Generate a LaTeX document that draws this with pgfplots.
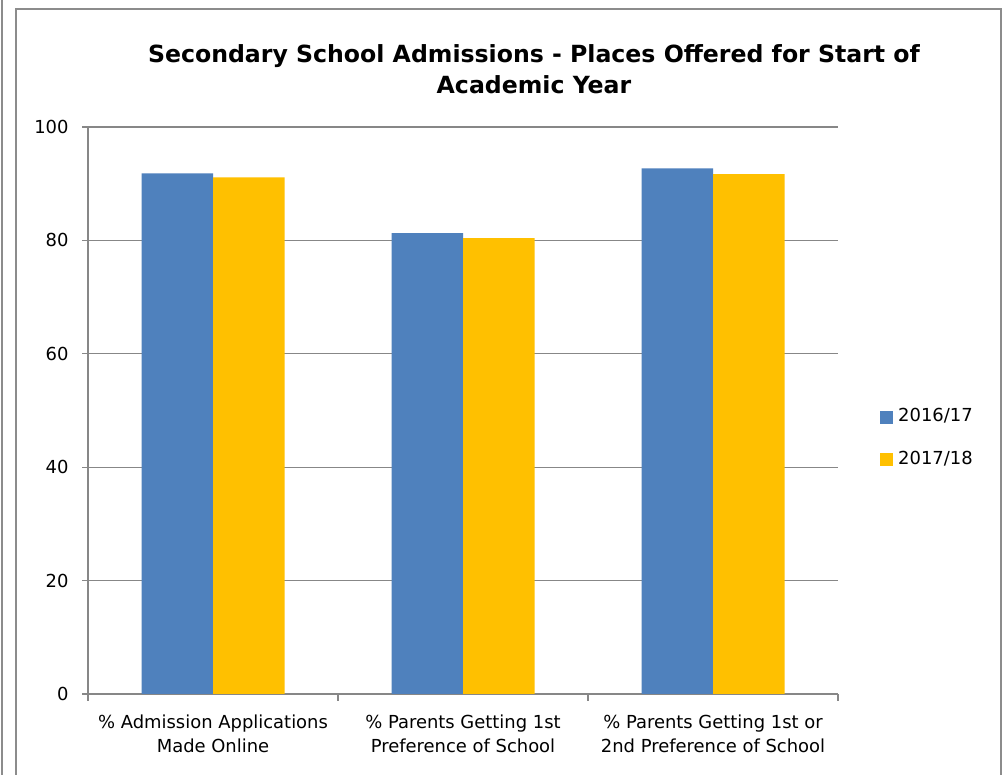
\documentclass[border=0pt]{standalone}
\usepackage{pgfplots}
\pgfplotsset{compat=1.18}
\usepackage{fontspec}
\setmainfont{DejaVu Sans}
\definecolor{sblue}{HTML}{4F81BD}
\definecolor{syellow}{HTML}{FFC000}
\definecolor{sgrid}{HTML}{878787}
\definecolor{sframe}{HTML}{8C8C8C}
\begin{document}
\begin{tikzpicture}[x=1bp,y=1bp]
\useasboundingbox (0,0) rectangle (1006,775);
\fill[white] (0,0) rectangle (1006,775);
\draw[sframe, line width=1.2bp] (2,0) -- (2,775);
\draw[sframe, line width=2.2bp] (16,0) -- (16,766) -- (1001,766) -- (1001,0);
\node[font=\fontsize{23.7}{32}\selectfont\bfseries, align=center, anchor=base] at (534,681) {Secondary School Admissions - Places Offered for Start of\\Academic Year};
\begin{axis}[
  at={(88bp,81bp)}, anchor=south west,
  width=750bp, height=567bp, scale only axis,
  xmin=-0.5, xmax=2.5, ymin=0, ymax=100,
  ytick={0,20,40,60,80,100},
  ymajorgrids, grid style={sgrid, line width=1.2bp},
  axis x line*=bottom, axis y line*=left,
  axis line style={sgrid, line width=1.2bp, -},
  xtick={0,1,2},
  xticklabels={{\% Admission Applications\\Made Online},{\% Parents Getting 1st\\Preference of School},{\% Parents Getting 1st or\\2nd Preference of School}},
  xticklabel style={align=center, font=\fontsize{18}{24}\selectfont, yshift=-11bp},
  yticklabel style={font=\fontsize{18}{22}\selectfont, xshift=-10bp},
  /pgf/number format/assume math mode=true,
  major x tick style={draw=none},
  minor xtick={-0.5,0.5,1.5,2.5},
  minor tick length=7bp, major tick length=6bp,
  tick align=outside,
  ytick style={sgrid, line width=1.2bp},
  minor x tick style={sgrid, line width=1.2bp},
  ybar=0pt, bar width=71.5bp,
  legend style={draw=none, at={(1.056,0.4506)}, anchor=west, font=\fontsize{18}{22}\selectfont, row sep=22bp, inner sep=0pt,
    nodes={text height=13bp, text depth=4bp}},
  legend cell align=left,
  legend image code/.code={\fill[#1] (0bp,-6.5bp) rectangle (13bp,6.5bp);},
  legend style={every node/.append style={}}, 
  legend style={/tikz/every even column/.append style={column sep=0pt}},
]
\addplot[fill=sblue, draw=none] coordinates {(0,91.8) (1,81.3) (2,92.7)};
\addplot[fill=syellow, draw=none] coordinates {(0,91.1) (1,80.4) (2,91.7)};
\legend{\hspace{3bp}2016/17,\hspace{3bp}2017/18}
\end{axis}
\end{tikzpicture}
\end{document}
